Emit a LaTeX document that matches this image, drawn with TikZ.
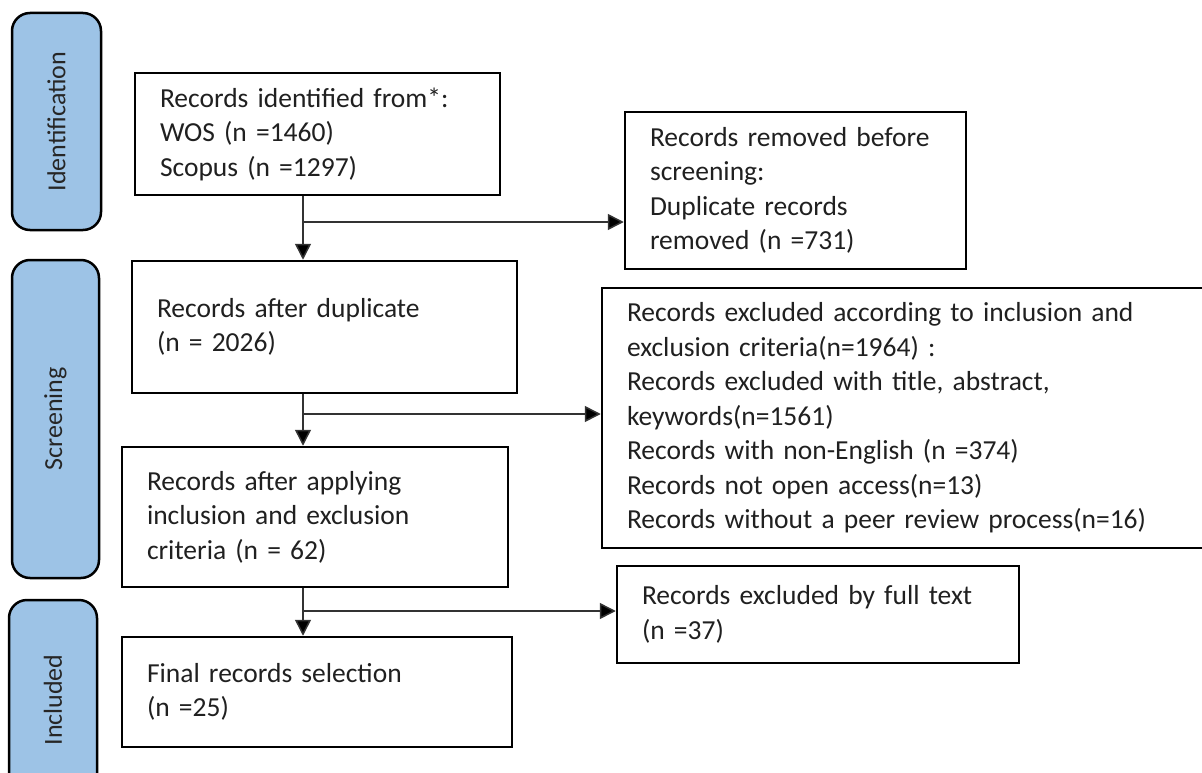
\documentclass[tikz,border=0pt]{standalone}
\usepackage{fontspec}
\setmainfont{Carlito}
\usepackage{xcolor}
\usetikzlibrary{arrows.meta,calc,positioning}
\definecolor{phaseblue}{HTML}{9DC3E6}
\definecolor{txtgray}{HTML}{202020}

\begin{document}
\begin{tikzpicture}[x=1pt,y=-1pt]
		\tikzstyle{every node}=[font=\fontsize{27.5}{34.5}\selectfont, text=txtgray]
		\tikzstyle{recbox}=[draw=black, line width=2.5pt, align=left, inner xsep=25pt, inner ysep=0pt]
		\tikzstyle{phase}=[draw=black, line width=2.5pt, fill=phaseblue, rounded corners=18pt, rotate=90, font=\fontsize{26}{30}\selectfont, text=black!85]
		\tikzstyle{flow}=[line width=1.5pt, draw=black!80, -{Triangle[length=16pt,width=16pt,fill=black]}]
		\tikzstyle{link}=[line width=1.5pt, draw=black!80]
		\fill[white] (0,0) rectangle (1202,773);
		\useasboundingbox (0,0) rectangle (1202,773);
		% phases
		\node[phase, minimum width=217pt, minimum height=89pt] (idlab) at (56.5,121.5) {Identification};
		\node[phase, minimum width=318pt, minimum height=87pt] (scrlab) at (55.5,419) {Screening};
		\node[phase, minimum width=200pt, minimum height=88pt] (inclab) at (53,700) {Included};
		% boxes
		\node[recbox, text width=315pt, minimum height=122pt] (ident) at (317.5,134) {Records identified from*:\\WOS (n =1460)\\Scopus (n =1297)};
		\node[recbox, text width=291pt, minimum height=157pt] (removed) at (795.5,190.5) {Records removed before\\screening:\\Duplicate records\\removed (n =731)};
		\node[recbox, text width=335pt, minimum height=132pt] (dedup) at (324.5,327) {Records after duplicate\\(n = 2026)};
		\node[recbox, text width=563pt, minimum height=260pt] (excl) at (908.5,418) {Records excluded according to inclusion and\\exclusion criteria(n=1964) :\\Records excluded with title, abstract,\\keywords(n=1561)\\Records with non-English (n =374)\\Records not open access(n=13)\\Records without a peer review process(n=16)};
		\node[recbox, text width=336pt, minimum height=140pt] (applied) at (315,517) {Records after applying\\inclusion and exclusion\\criteria (n = 62)};
		\node[recbox, text width=352pt, minimum height=97pt] (fulltext) at (818,614.5) {Records excluded by full text\\(n =37)};
		\node[recbox, text width=340pt, minimum height=110pt] (final) at (317,692) {Final records selection\\(n =25)};
		% connectors
		\coordinate (j1) at (303,222);
		\coordinate (j2) at (303,414);
		\coordinate (j3) at (303,611);
		\draw[link] (ident.south -| j1) -- (j1);
		\draw[flow] (j1) -- (j1 -| removed.west);
		\draw[flow] (j1) -- (j1 |- dedup.north);
		\draw[link] (dedup.south -| j2) -- (j2);
		\draw[flow] (j2) -- (j2 -| excl.west);
		\draw[flow] (j2) -- (j2 |- applied.north);
		\draw[link] (applied.south -| j3) -- (j3);
		\draw[flow] (j3) -- (j3 -| fulltext.west);
		\draw[flow] (j3) -- (j3 |- final.north);
	\end{tikzpicture}
\end{document}
